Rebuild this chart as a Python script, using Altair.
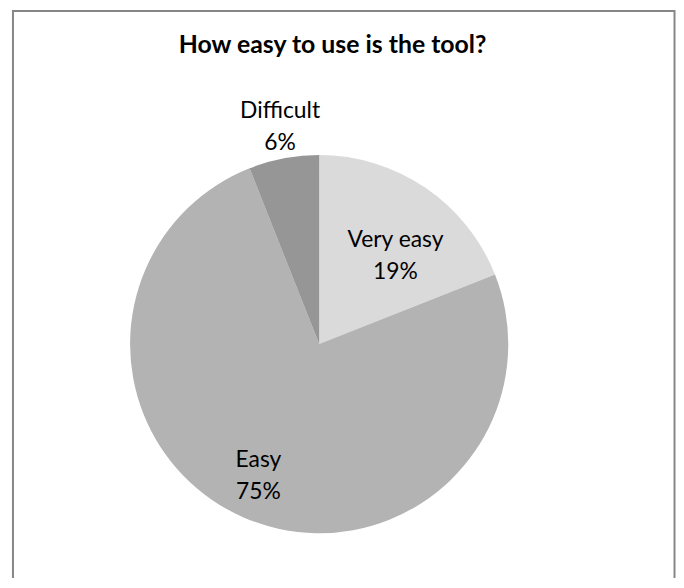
import altair as alt
import pandas as pd

TITLE = "How easy to use is the tool?"
CATEGORIES = ["Very easy", "Easy", "Difficult"]
VALUES = [19, 75, 6]
PERCENT_LABELS = ["19%", "75%", "6%"]
COLORS = ["#dadada", "#b3b3b3", "#969696"]
TOTAL = sum(VALUES)

df = pd.DataFrame({
    "category": CATEGORIES,
    "value": VALUES,
    "pct": PERCENT_LABELS,
    "idx": list(range(len(CATEGORIES))),
})
df["label"] = df["category"] + "\n" + df["pct"]

CX, CY, R = 313.5, 336.5, 190.5
FONT = "Lato"
TWO_PI = 6.283185307179586

pie = alt.Chart(df).mark_arc(outerRadius=R).encode(
    theta=alt.Theta("value:Q", stack=True),
    order=alt.Order("idx:Q"),
    x=alt.value(CX),
    y=alt.value(CY),
    color=alt.Color("category:N",
                    scale=alt.Scale(domain=CATEGORIES, range=COLORS),
                    legend=None),
)

# label placement: radius along the slice mid-angle plus a small nudge
placement = {
    "Very easy": dict(radius=119, dx=10, dy=-6),
    "Easy": dict(radius=144, dx=-4, dy=-15),
    "Difficult": dict(radius=226, dx=3, dy=-13),
}

text_base = alt.Chart(df).transform_window(
    cum="sum(value)", sort=[alt.SortField("idx")], frame=[None, 0]
).transform_calculate(mid="datum.cum - datum.value / 2")

labels = []
for cat, p in placement.items():
    labels.append(
        text_base.transform_filter(alt.datum.category == cat).mark_text(
            radius=p["radius"], dx=p["dx"], dy=p["dy"],
            font=FONT, fontSize=23, color="#000000",
            lineBreak="\n", lineHeight=32, align="center", baseline="middle",
        ).encode(
            theta=alt.Theta("mid:Q", stack=None,
                            scale=alt.Scale(domain=[0, TOTAL], range=[0, TWO_PI])),
            x=alt.value(CX),
            y=alt.value(CY),
            text="label:N",
        )
    )

title_df = pd.DataFrame({"t": [TITLE]})
title = alt.Chart(title_df).mark_text(
    font=FONT, fontSize=25, fontWeight="bold", color="#000000",
    align="center", baseline="alphabetic",
).encode(text="t:N", x=alt.value(327), y=alt.value(43))

border = alt.Chart(title_df).mark_rect(
    fill=None, stroke="#868686", strokeWidth=2
).encode(x=alt.value(5), x2=alt.value(671.5), y=alt.value(1), y2=alt.value(700))

chart = alt.layer(border, pie, *labels, title).resolve_scale(
    theta="independent"
).properties(
    width=673, height=570,
    autosize=alt.AutoSizeParams(type="none"),
    padding=0,
).configure_view(stroke=None)

chart.save("out.html", embed_options={"renderer": "svg", "actions": False})
